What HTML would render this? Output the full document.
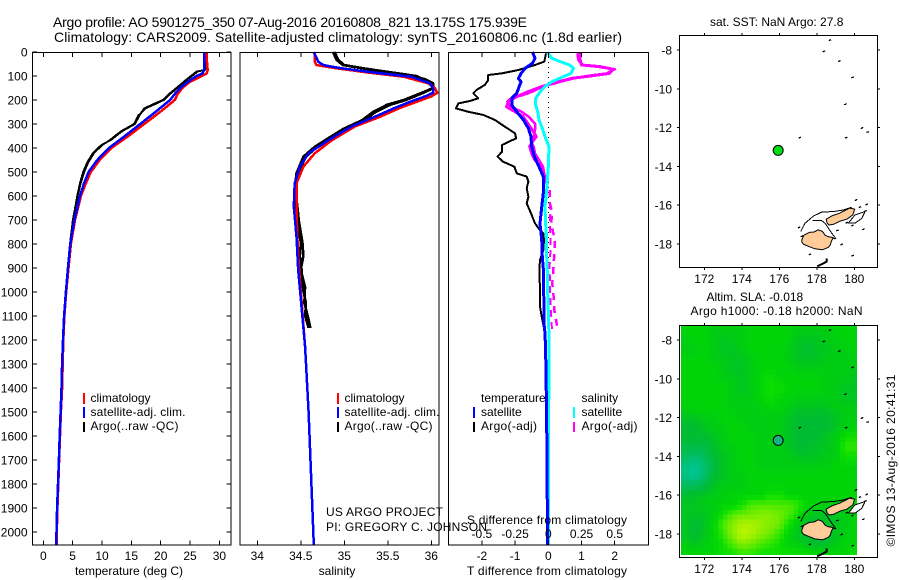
<!DOCTYPE html>
<html lang="en">
<head>
<meta charset="utf-8">
<title>Argo profile 5901275_350</title>
<style>
html,body{margin:0;padding:0;background:#fff;}
#chart{display:block;width:900px;height:580px;}
text{font-family:"Liberation Sans",Arial,sans-serif;font-size:12px;fill:#000;}
.frame{fill:none;stroke:#000;stroke-width:1;shape-rendering:crispEdges;}
.tick{stroke:#000;stroke-width:1;shape-rendering:crispEdges;}
.ser{fill:none;shape-rendering:crispEdges;stroke-linejoin:round;}
.ttl{font-size:14px;}
</style>
</head>
<body>
<svg id="chart" xmlns="http://www.w3.org/2000/svg" width="900" height="580" viewBox="0 0 900 580">
  <rect x="0" y="0" width="900" height="580" fill="#fff"/>
  <g id="layer-p1"></g>
  <g id="layer-p2"></g>
  <g id="layer-p3"></g>
  <g id="layer-m1"></g>
  <g id="layer-m2"></g>

  <text class="ttl" x="53" y="27" textLength="474">Argo profile: AO 5901275_350 07-Aug-2016 20160808_821 13.175S 175.939E</text>
  <text class="ttl" x="54" y="42" textLength="568">Climatology: CARS2009. Satellite-adjusted climatology: synTS_20160806.nc (1.8d earlier)</text>

  <text x="129" y="575" text-anchor="middle">temperature (deg C)</text>
  <text x="337" y="575" text-anchor="middle">salinity</text>
  <text x="467" y="575" textLength="160">T difference from climatology</text>
  <text x="467" y="524" textLength="160">S difference from climatology</text>

  <text x="326" y="516" textLength="117">US ARGO PROJECT</text>
  <text x="326" y="531" textLength="161">PI: GREGORY C. JOHNSON</text>

  <g>
    <rect x="83" y="393" width="2" height="11" fill="#f00"/>
    <rect x="83" y="407" width="2" height="11" fill="#00f"/>
    <rect x="83" y="422" width="2" height="10" fill="#000"/>
    <text x="90.5" y="402">climatology</text>
    <text x="90.5" y="416" textLength="95">satellite-adj. clim.</text>
    <text x="90.5" y="430" textLength="88">Argo(..raw -QC)</text>
  </g>
  <g>
    <rect x="337" y="393" width="2" height="11" fill="#f00"/>
    <rect x="337" y="407" width="2" height="11" fill="#00f"/>
    <rect x="337" y="422" width="2" height="10" fill="#000"/>
    <text x="344.5" y="402">climatology</text>
    <text x="344.5" y="416" textLength="95">satellite-adj. clim.</text>
    <text x="344.5" y="430" textLength="88">Argo(..raw -QC)</text>
  </g>
  <g>
    <text x="481" y="402">temperature</text>
    <rect x="473" y="407" width="2" height="11" fill="#00f"/>
    <rect x="473" y="422" width="2" height="10" fill="#000"/>
    <text x="481" y="416">satellite</text>
    <text x="481" y="430" textLength="56">Argo(-adj)</text>
    <text x="581.5" y="402">salinity</text>
    <rect x="573" y="407" width="2" height="11" fill="#0ff"/>
    <rect x="573" y="422" width="2" height="10" fill="#f0f"/>
    <text x="581.5" y="416">satellite</text>
    <text x="581.5" y="430" textLength="56">Argo(-adj)</text>
  </g>

  <text x="776.7" y="26" text-anchor="middle">sat. SST: NaN Argo: 27.8</text>
  <text x="706.5" y="301">Altim. SLA: -0.018</text>
  <text x="690.5" y="315" textLength="172">Argo h1000: -0.18 h2000: NaN</text>
  <text transform="translate(895,546.5) rotate(-90)" textLength="172">©IMOS 13-Aug-2016 20:41:31</text>
</svg>

<script>
/* ---------- axis tick labels ---------- */
const depthTicks = [0,100,200,300,400,500,600,700,800,900,1000,1100,1200,1300,1400,1500,1600,1700,1800,1900,2000];
const tempTicks = [0,5,10,15,20,25,30];
const salTicks = [34,34.5,35,35.5,36];
const tDiffTicks = [-2,-1,0,1,2];
const sDiffTicks = [-0.5,-0.25,0,0.25,0.5];
const lonTicks = [172,174,176,178,180];
const latTicks = [-8,-10,-12,-14,-16,-18];

/* ---------- temperature profiles ---------- */
const climTempDepth = [0,50,75,90,100,125,150,175,200,250,300,350,400,450,500,550,600,700,800,900,1000,1100,1200,1300,1400,1500,1600,1700,1800,1900,2000,2054];
const climTemp = [27.8,27.9,28.0,27.8,27.0,24.9,23.7,22.9,22.4,19.9,17.2,14.5,11.6,9.6,8.1,7.2,6.4,5.4,4.7,4.3,3.9,3.6,3.4,3.3,3.2,3.0,2.85,2.7,2.55,2.4,2.3,2.25];
const satTemp = [27.4,27.4,27.4,27.1,26.1,24.6,23.3,22.4,21.6,19.1,16.5,13.9,11.2,9.2,7.7,6.9,6.25,5.3,4.6,4.2,3.85,3.55,3.35,3.2,3.1,2.95,2.8,2.65,2.5,2.35,2.25,2.2];
const argoTempDepth = [0,50,75,82,115,150,178,200,215,235,263,300,330,365,388,420,460,500,547,600,700,800,900,1000,1100,1155];
const argoTempRaw = [27.8,27.8,27.5,26.1,24.4,22.7,21.3,20.4,19.0,17.2,16.4,15.6,13.4,11.6,9.9,8.5,7.5,6.8,6.25,5.8,5.05,4.55,4.15,3.85,3.55,3.45];
const argoTempQc = [27.9,27.9,27.6,26.3,24.6,22.9,21.5,20.6,19.3,17.5,16.2,15.4,13.2,11.4,10.1,8.7,7.7,7.0,6.4,5.9,5.1,4.6,4.2,3.9,3.6,3.5];

/* ---------- salinity profiles ---------- */
const climSalDepth = [0,40,54,60,68,85,103,130,150,170,185,200,233,270,311,367,422,478,547,644,770,908,1228,1500,2054];
const climSal = [34.66,34.66,34.68,34.77,34.91,35.26,35.68,35.96,36.04,36.07,36.0,35.89,35.64,35.41,35.12,34.86,34.66,34.53,34.45,34.45,34.46,34.48,34.55,34.59,34.65];
const satSal = [34.65,34.70,34.76,34.84,34.97,35.33,35.77,35.98,36.02,36.02,35.93,35.81,35.58,35.35,35.08,34.82,34.59,34.49,34.43,34.42,34.45,34.47,34.55,34.59,34.65];
const argoSalDepth = [0,33,54,68,82,100,115,130,150,170,200,220,250,285,320,367,395,436,505,575,710,795,850,908,980,1046,1100,1150];
const argoSalRaw = [34.89,34.93,35.0,35.22,35.49,35.83,35.91,36.0,36.02,35.89,35.68,35.49,35.33,35.2,34.99,34.78,34.66,34.53,34.45,34.43,34.46,34.5,34.49,34.51,34.52,34.56,34.55,34.59];
const argoSalQc = [34.87,34.91,34.98,35.2,35.46,35.8,35.94,36.02,36.03,35.91,35.71,35.53,35.36,35.23,35.02,34.8,34.69,34.56,34.47,34.44,34.48,34.52,34.53,34.5,34.55,34.54,34.58,34.61];

/* ---------- difference profiles ---------- */
const argoTDiffDepth = [6,40,54,75,89,96,117,137,158,172,193,204,214,235,249,262,283,311,339,360,374,387,415,436,457,478,506,519,540,568,603,631,672,714,742,756,783,825,867,908,992,1061,1103,1151];
const argoTDiff = [-0.07,-0.12,-0.40,-0.90,-1.41,-1.81,-1.81,-1.91,-2.16,-2.26,-2.11,-2.36,-2.71,-2.78,-2.41,-1.96,-1.61,-1.31,-1.0,-0.97,-1.2,-1.39,-1.39,-1.53,-1.36,-1.02,-0.95,-0.65,-0.6,-0.65,-0.6,-0.65,-0.52,-0.40,-0.25,-0.15,-0.13,-0.15,-0.25,-0.27,-0.25,-0.25,-0.2,-0.13];
const satTDiffDepth = [0,26,47,68,89,110,124,144,172,193,221,249,283,318,353,394,436,478,519,575,646,714,783,853,922,992,1131,1172,1240,1500,2054];
const satTDiff = [-0.48,-0.40,-0.48,-0.70,-0.82,-0.90,-0.82,-0.88,-0.95,-1.10,-1.10,-0.95,-0.75,-0.60,-0.52,-0.50,-0.42,-0.28,-0.15,-0.14,-0.20,-0.25,-0.20,-0.18,-0.14,-0.14,-0.13,-0.10,-0.08,-0.05,-0.02];
const satSDiffDepth = [0,26,40,54,68,89,106,124,144,165,193,221,249,283,318,353,394,478,575,646,714,783,853,922,992,1131,1240,1500,2054];
const satSDiff = [-0.005,0.025,0.09,0.16,0.19,0.17,0.10,0.025,-0.025,-0.06,-0.095,-0.095,-0.08,-0.07,-0.045,-0.025,0.005,0,-0.012,-0.025,-0.02,-0.012,-0.012,-0.007,-0.005,0.003,0.005,0.003,0.0];
const argoSDiffDepth = [0,33,54,61,72,89,99,110,124,144,165,179,193,207,228,249,269,297,325,353,374,394,422,450,478,506,547];
const argoSDiffRaw = [0.234,0.24,0.25,0.39,0.49,0.46,0.33,0.175,0.075,-0.05,-0.15,-0.21,-0.26,-0.30,-0.315,-0.25,-0.19,-0.155,-0.12,-0.09,-0.12,-0.14,-0.125,-0.10,-0.06,-0.045,-0.025];
const argoSDiffQc = [0.22,0.225,0.26,0.36,0.50,0.44,0.30,0.19,0.09,-0.04,-0.12,-0.19,-0.28,-0.31,-0.28,-0.20,-0.15,-0.10,-0.10,-0.11,-0.13,-0.11,-0.10,-0.07,-0.04,-0.03,-0.015];
const argoSDeepDepth = [575,630,672,714,783,839,894,964,1019,1075,1137,1158];
const argoSDeepRaw = [0.01,0.012,0.015,0.012,0.017,0.015,0.01,0.012,0.015,0.02,0.025,0.03];
const argoSDeepQc = [0.01,0.012,0.03,0.02,0.05,0.045,0.04,0.03,0.04,0.045,0.065,0.07];

/* ---------- map data ---------- */
const floatLon = [175.94];
const floatLat = [-13.175];
const vitiLevuLon = [177.2,177.3,177.6,177.85,178.08,178.3,178.45,178.6,178.88,178.78,178.72,178.62,178.3,177.9,177.55,177.3,177.2];
const vitiLevuLat = [-17.8,-17.55,-17.4,-17.38,-17.27,-17.35,-17.55,-17.62,-17.67,-17.85,-18.05,-18.17,-18.3,-18.25,-18.12,-18.02,-17.9];
const vanuaLevuLon = [178.5,178.8,179.2,179.55,179.75,180.02,179.92,179.6,179.25,178.9,178.65,178.55];
const vanuaLevuLat = [-16.72,-16.55,-16.42,-16.25,-16.15,-16.2,-16.5,-16.72,-16.82,-16.98,-17.02,-16.92];
const reefNorthLon = [177.14,177.37,177.82,178.26,178.88,179.42,179.86];
const reefNorthLat = [-17.36,-16.93,-16.56,-16.35,-16.33,-16.25,-16.11];
const reefInnerLon = [177.78,178.26,178.44,178.62,178.80,178.97];
const reefInnerLat = [-16.8,-16.8,-16.93,-17.19,-17.45,-17.66];
const reefEastLon = [179.68,180.04,180.4,180.57,180.04,179.68];
const reefEastLat = [-16.93,-16.93,-16.68,-16.33,-16.5,-16.93];
const isletLon = [178.7,178.38,179.2,179.91,179.52,180.41,180.71,177.09,179.56,177.64,179.91,180.48,180.09,180.66,179.33,178.97,180.3,180.6,179.6,179.9,177.2,177.05,179.1];
const isletLat = [-7.49,-8.07,-8.57,-9.41,-10.8,-12.02,-12.23,-12.52,-12.52,-18.53,-18.6,-17.24,-15.73,-15.96,-18.02,-17.71,-16.1,-16.3,-16.9,-17.05,-17.6,-17.15,-17.3];
const kadavuLon = [178.02,178.17,178.35,178.53,178.53];
const kadavuLat = [-19.15,-19.08,-19.0,-18.9,-18.75];

/* sea level anomaly, cm; rows from -7.5 to -19 every 0.5 deg, columns from 171 to 180 every 0.5 deg */
const slaLats = [-7.5,-8,-8.5,-9,-9.5,-10,-10.5,-11,-11.5,-12,-12.5,-13,-13.5,-14,-14.5,-15,-15.5,-16,-16.5,-17,-17.5,-18,-18.5,-19];
const slaLons = [171,171.5,172,172.5,173,173.5,174,174.5,175,175.5,176,176.5,177,177.5,178,178.5,179,179.5,180];
const slaGrid = [
[6,6,6,5,5,5,5,6,6,6,6,6,5,5,5,5,6,6,6],
[5,6,6,5,4,5,5,6,6,6,6,6,4,4,4,5,5,6,6],
[5,5,6,5,4,4,5,6,6,6,6,5,4,3,4,4,5,5,6],
[6,6,6,5,5,4,4,5,6,6,6,5,4,4,4,5,5,5,5],
[6,6,6,6,5,4,4,5,6,6,6,6,5,5,5,5,5,5,5],
[6,6,6,6,5,5,4,5,6,7,6,6,6,6,6,5,5,5,4],
[6,6,6,6,6,5,4,5,6,7,7,6,6,6,6,5,5,4,4],
[6,6,6,6,6,5,5,5,6,7,6,6,5,5,5,5,5,4,4],
[5,6,6,6,6,5,5,5,5,6,6,5,4,4,4,4,5,5,5],
[4,4,5,5,6,6,5,5,5,5,5,4,3,3,3,3,4,5,5],
[3,3,4,5,5,6,6,5,5,5,5,4,3,3,3,3,4,5,6],
[3,3,3,4,5,6,6,6,5,5,5,4,3,3,3,4,5,7,7],
[2,2,2,3,5,5,6,6,5,5,5,4,3,3,4,4,5,8,8],
[1,0,1,3,4,5,6,6,5,5,5,5,4,4,4,5,5,7,7],
[-1,-2,0,2,4,5,6,6,5,5,5,5,5,5,5,5,6,6,6],
[-1,-2,0,3,4,5,5,6,6,6,6,6,6,6,6,6,6,6,6],
[1,1,2,4,5,5,5,6,6,6,6,6,6,6,6,6,6,6,6],
[3,4,4,5,5,6,6,6,6,7,7,6,6,6,6,6,6,6,6],
[4,4,5,5,6,6,7,9,9,9,9,9,8,6,6,5,5,6,6],
[4,4,4,5,7,9,10,10,11,11,10,9,7,5,4,4,4,5,6],
[4,3,4,6,9,11,13,13,12,11,10,7,5,3,3,4,4,5,6],
[4,3,4,6,8,11,14,13,11,10,8,6,4,3,3,3,4,5,6],
[5,4,5,6,7,9,11,10,9,8,7,6,5,4,3,3,5,6,6],
[6,6,6,6,7,7,8,8,7,7,7,7,7,7,6,6,6,6,7]
];

/* ---------- scales ---------- */
const NS = 'http://www.w3.org/2000/svg';
const yDepth = d => 52 + d * 0.24;
const xTemp = v => 43.3 + v * 5.87;
const xSal = v => 257.3 + (v - 34) * 87;
const xTD = v => 548.3 + v * 33.2;
const xSD = v => 548.3 + v * 132.8;
const xLon = v => 704.3 + (v - 172) * 18.75;
const yLat = (v, off) => off + 50 + (-8 - v) * 19.4;

function mk(tag, attrs, parent, txt) {
  const el = document.createElementNS(NS, tag);
  for (const k in attrs) el.setAttribute(k, attrs[k]);
  if (txt !== undefined) el.textContent = txt;
  parent.appendChild(el);
  return el;
}
function profile(parent, name, depths, vals, xf, color, width, dash) {
  const pts = depths.map((d, i) => xf(vals[i]).toFixed(1) + ',' + yDepth(d).toFixed(1)).join(' ');
  const el = mk('polyline', {points: pts, class: 'ser', stroke: color, 'stroke-width': width}, parent);
  if (dash) el.setAttribute('stroke-dasharray', dash);
  
  
  return el;
}
function frame(parent, x, y, w, h) {
  const el = mk('rect', {x: x, y: y, width: w, height: h, class: 'frame'}, parent);
  
  
}
function tick(parent, x1, y1, x2, y2) {
  const el = mk('line', {x1: x1, y1: y1, x2: x2, y2: y2, class: 'tick'}, parent);
  
  
}
function label(parent, x, y, anchor, str) {
  const el = mk('text', {x: x, y: y, 'text-anchor': anchor}, parent, str);
  
  
}

/* ---------- temperature panel ---------- */
const g1 = document.getElementById('layer-p1');
profile(g1, 'argo-temperature-raw', argoTempDepth, argoTempRaw, xTemp, '#000', 2);
profile(g1, 'argo-temperature-qc', argoTempDepth, argoTempQc, xTemp, '#000', 1.5);
profile(g1, 'climatology-temperature', climTempDepth, climTemp, xTemp, '#f00', 2.5);
profile(g1, 'satellite-temperature', climTempDepth, satTemp, xTemp, '#00f', 2.5);
frame(g1, 32.5, 52.5, 198.5, 492.5);
depthTicks.forEach(d => {
  tick(g1, 32.5, yDepth(d), 37, yDepth(d));
  tick(g1, 226.5, yDepth(d), 231, yDepth(d));
  label(g1, 27.5, yDepth(d) + 4.5, 'end', String(d));
});
tempTicks.forEach(v => {
  tick(g1, xTemp(v), 52.5, xTemp(v), 57);
  tick(g1, xTemp(v), 540.5, xTemp(v), 545);
  label(g1, xTemp(v), 560, 'middle', String(v));
});

/* ---------- salinity panel ---------- */
const g2 = document.getElementById('layer-p2');
profile(g2, 'argo-salinity-raw', argoSalDepth, argoSalRaw, xSal, '#000', 2.5);
profile(g2, 'argo-salinity-qc', argoSalDepth, argoSalQc, xSal, '#000', 2.5);
profile(g2, 'climatology-salinity', climSalDepth, climSal, xSal, '#f00', 2.5);
profile(g2, 'satellite-salinity', climSalDepth, satSal, xSal, '#00f', 2.5);
frame(g2, 240, 52.5, 199, 492.5);
salTicks.forEach(v => {
  tick(g2, xSal(v), 52.5, xSal(v), 57);
  tick(g2, xSal(v), 540.5, xSal(v), 545);
  label(g2, xSal(v), 560, 'middle', String(v));
});

/* ---------- difference panel ---------- */
const g3 = document.getElementById('layer-p3');
const zeroLine = mk('line', {x1: 548.5, y1: 52, x2: 548.5, y2: 545, stroke: '#000', 'stroke-width': 1, 'stroke-dasharray': '1 4', 'shape-rendering': 'crispEdges'}, g3);


profile(g3, 'argo-t-difference', argoTDiffDepth, argoTDiff, xTD, '#000', 2);
profile(g3, 'argo-s-difference-raw', argoSDiffDepth, argoSDiffRaw, xSD, '#f0f', 3);
profile(g3, 'argo-s-difference-qc', argoSDiffDepth, argoSDiffQc, xSD, '#f0f', 2.5);
profile(g3, 'argo-s-difference-deep-raw', argoSDeepDepth, argoSDeepRaw, xSD, '#f0f', 2, '7 5');
profile(g3, 'argo-s-difference-deep-qc', argoSDeepDepth, argoSDeepQc, xSD, '#f0f', 2.5, '7 6');
profile(g3, 'satellite-s-difference', satSDiffDepth, satSDiff, xSD, '#0ff', 3);
profile(g3, 'satellite-t-difference', satTDiffDepth, satTDiff, xTD, '#00f', 3);
frame(g3, 448.5, 52.5, 200, 492.5);
tDiffTicks.forEach(v => {
  tick(g3, xTD(v), 52.5, xTD(v), 57);
  tick(g3, xTD(v), 540.5, xTD(v), 545);
  label(g3, xTD(v), 560, 'middle', String(v));
});
sDiffTicks.forEach(v => {
  label(g3, xSD(v), 538, 'middle', String(v));
});

/* ---------- maps ---------- */
function ramp(v) {
  const stops = [[-3,0,200,165],[0,0,190,110],[3,0,188,50],[5,0,205,18],[6,0,212,8],[7,12,222,0],[8,45,230,0],[10,110,236,0],[12,155,240,0],[14,190,245,0]];
  if (v <= stops[0][0]) return 'rgb(' + stops[0].slice(1).join(',') + ')';
  for (let i = 1; i < stops.length; i++) {
    if (v <= stops[i][0]) {
      const a = stops[i-1], b = stops[i], t = (v - a[0]) / (b[0] - a[0]);
      return 'rgb(' + [1,2,3].map(k => Math.round(a[k] + (b[k] - a[k]) * t)).join(',') + ')';
    }
  }
  return 'rgb(190,245,0)';
}
function poly(g, tag, lons, lats, off, attrs, name) {
  const pts = lons.map((v, i) => xLon(v).toFixed(1) + ',' + yLat(lats[i], off).toFixed(1)).join(' ');
  const el = mk(tag, Object.assign({points: pts}, attrs), g);
  
  
}
function drawMap(g, off, markerFill) {
  const clipId = 'clip' + off;
  const defs = mk('defs', {}, g);
  const cp = mk('clipPath', {id: clipId}, defs);
  mk('rect', {x: 679.5, y: 35 + off, width: 198, height: 232}, cp);
  const land = {fill: '#ffcc99', stroke: '#000', 'stroke-width': 1, 'stroke-linejoin': 'round'};
  const reef = {fill: 'none', stroke: '#000', 'stroke-width': 1, 'shape-rendering': 'crispEdges'};
  const clipG = mk('g', {'clip-path': 'url(#' + clipId + ')'}, g);
  
  
  poly(clipG, 'polyline', reefNorthLon, reefNorthLat, off, reef, 'reef-north');
  poly(clipG, 'polyline', reefInnerLon, reefInnerLat, off, reef, 'reef-inner');
  poly(clipG, 'polygon', reefEastLon, reefEastLat, off, {fill: '#fff', stroke: '#000', 'stroke-width': 1, 'shape-rendering': 'crispEdges'}, 'reef-east');
  poly(clipG, 'polygon', vitiLevuLon, vitiLevuLat, off, land, 'viti-levu');
  poly(clipG, 'polygon', vanuaLevuLon, vanuaLevuLat, off, land, 'vanua-levu');
  poly(clipG, 'polyline', kadavuLon, kadavuLat, off, {fill: 'none', stroke: '#000', 'stroke-width': 2}, 'kadavu');
  isletLon.forEach((v, i) => {
    const el = mk('line', {x1: xLon(v) - 1.2, y1: yLat(isletLat[i], off) + 0.5, x2: xLon(v) + 1.2, y2: yLat(isletLat[i], off) - 0.5, stroke: '#000', 'stroke-width': 1.3, 'shape-rendering': 'crispEdges'}, clipG);
    
    
  });
  const m = mk('circle', {cx: xLon(floatLon[0]), cy: yLat(floatLat[0], off), r: 5, fill: markerFill, stroke: '#000', 'stroke-width': 1}, g);
  
  
  frame(g, 679.5, 35.5 + off, 198, 232);
  lonTicks.forEach(v => {
    tick(g, xLon(v), 33 + off, xLon(v), 35.5 + off);
    tick(g, xLon(v), 267.5 + off, xLon(v), 270 + off);
    label(g, xLon(v), 283 + off, 'middle', String(v));
  });
  latTicks.forEach(v => {
    tick(g, 677, yLat(v, off), 679.5, yLat(v, off));
    tick(g, 877.5, yLat(v, off), 880, yLat(v, off));
    label(g, 672, yLat(v, off) + 4.5, 'end', String(v));
  });
}

const gm1 = document.getElementById('layer-m1');
drawMap(gm1, 0, '#00dc14');

const gm2 = document.getElementById('layer-m2');
const heatDefs = mk('defs', {}, gm2);
const heatClip = mk('clipPath', {id: 'heat-clip'}, heatDefs);
mk('rect', {x: 679.5, y: 325.5, width: 177.5, height: 229.5}, heatClip);
const heat = mk('g', {'clip-path': 'url(#heat-clip)', 'shape-rendering': 'crispEdges'}, gm2);


function slaAt(fr, fc) {
  const r0 = Math.max(0, Math.min(slaGrid.length - 1, Math.floor(fr)));
  const c0 = Math.max(0, Math.min(slaGrid[0].length - 1, Math.floor(fc)));
  const r1 = Math.min(slaGrid.length - 1, r0 + 1), c1 = Math.min(slaGrid[0].length - 1, c0 + 1);
  const tr = Math.max(0, Math.min(1, fr - r0)), tc = Math.max(0, Math.min(1, fc - c0));
  return (slaGrid[r0][c0] * (1 - tc) + slaGrid[r0][c1] * tc) * (1 - tr) + (slaGrid[r1][c0] * (1 - tc) + slaGrid[r1][c1] * tc) * tr;
}
slaGrid.forEach((row, r) => {
  row.forEach((val, c) => {
    [-0.25, 0.25].forEach(dr => {
      [-0.25, 0.25].forEach(dc => {
        const lonC = slaLons[c] + dc * 0.5 * 2 * 0.5, latC = slaLats[r] - dr * 0.5 * 2 * 0.5;
        const x0 = xLon(lonC - 0.125), x1 = xLon(lonC + 0.125);
        const y0 = yLat(latC + 0.125, 290), y1 = yLat(latC - 0.125, 290);
        const cell = mk('rect', {x: x0.toFixed(1), y: y0.toFixed(1), width: (x1 - x0 + 0.6).toFixed(1), height: (y1 - y0 + 0.6).toFixed(1), fill: ramp(slaAt(r + dr, c + dc))}, heat);
        
        
      });
    });
  });
});
drawMap(gm2, 290, '#14b482');
</script>
</body>
</html>
